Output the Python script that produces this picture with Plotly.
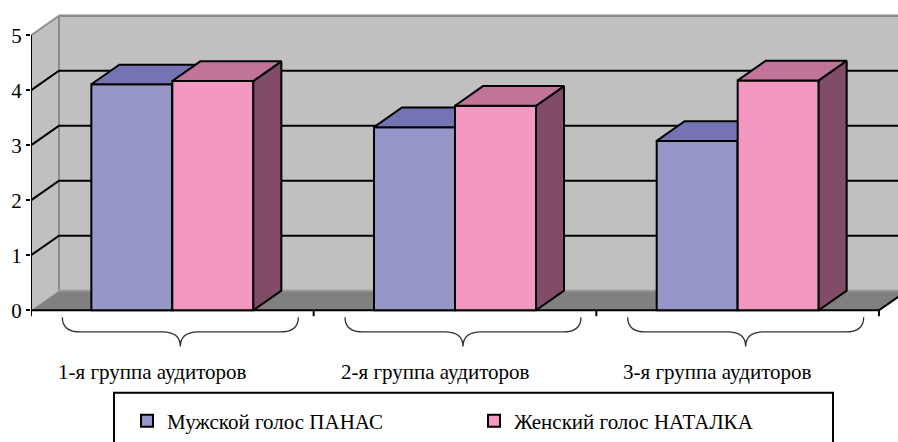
import plotly.graph_objects as go

# ---- data -------------------------------------------------------------
categories = ["1-я группа аудиторов", "2-я группа аудиторов", "3-я группа аудиторов"]
series_names = ["Мужской голос ПАНАС", "Женский голос НАТАЛКА"]
male_values = [4.11, 3.33, 3.08]
female_values = [4.17, 3.72, 4.18]
y_ticks = [0, 1, 2, 3, 4, 5]

# ---- styling / geometry ------------------------------------------------
FONT = "Liberation Serif"
W, H = 898, 442
ML = 31                       # left margin (value axis sits here)
PX_X = 282.67                 # pixels per category
PX_Y = 56.0                   # pixels per value unit
Y0_PX = 316                   # pixel row of value 0

X_RANGE = [-0.5, -0.5 + (W - ML) / PX_X]
Y_RANGE = [-(H - Y0_PX) / PX_Y, Y0_PX / PX_Y]

DX = 28 / PX_X                # depth offset (x)
DY = 20 / PX_Y                # depth offset (y)
BAR_W = 81 / PX_X             # bar width in category units
YMAX = 5
XR = X_RANGE[1] + 0.2         # back wall runs past the right edge

WALL = "#C0C0C0"
FLOOR = "#808080"
EDGE = "#8C8C8C"

colors = {
    "front": ["#9696C8", "#F399C1"],
    "top": ["#7474B4", "#C07498"],
    "side": ["#4B4B78", "#804C68"],
}


def px_x(dpx):
    return dpx / PX_X


def px_y(dpx):
    return dpx / PX_Y


fig = go.Figure()


def poly(xs, ys, fill, axis="", line_color=None, line_width=0):
    fig.add_trace(go.Scatter(
        x=xs + [xs[0]], y=ys + [ys[0]], mode="lines", fill="toself",
        fillcolor=fill,
        line=dict(color=line_color or fill, width=line_width),
        hoverinfo="skip", showlegend=False,
        xaxis="x" + axis, yaxis="y" + axis,
    ))


def seg(xs, ys, color, width):
    fig.add_trace(go.Scatter(
        x=xs, y=ys, mode="lines", line=dict(color=color, width=width),
        hoverinfo="skip", showlegend=False,
    ))


# ---- walls and floor (main subplot, drawn first) ----------------------
x_left = -0.5
x_right = -0.5 + len(categories)
poly([x_left + DX, XR, XR, x_left + DX], [DY, DY, YMAX + DY, YMAX + DY], WALL)
poly([x_left, x_left + DX, x_left + DX, x_left], [0, DY, YMAX + DY, YMAX], WALL)
poly([x_left, x_right, x_right + DX, x_left + DX], [0, 0, DY, DY], FLOOR)

# wall edges
seg([x_left + DX, XR], [YMAX + DY, YMAX + DY], EDGE, 2.5)
seg([x_left, x_left + DX], [YMAX, YMAX + DY], EDGE, 2)
seg([x_left + DX, x_left + DX], [DY, YMAX + DY], EDGE, 2)
seg([x_left + DX, XR], [DY, DY], "#999999", 2)
seg([x_left, x_left + DX], [0, DY], "#A8A8A8", 1)

# gridlines across side and back wall
for k in y_ticks[1:-1]:
    seg([x_left, x_left + DX, XR], [k, k + DY, k + DY], "black", 2)

# value axis line, floor front edge and category ticks
seg([x_left, x_left], [0, YMAX], "black", 2)
seg([x_left, x_right, x_right + DX], [0, 0, DY], "black", 2)
for i in range(len(categories) + 1):
    seg([x_left + i, x_left + i], [0, -px_y(6)], "black", 2)


# ---- 3-D columns: each series on its own overlaid subplot --------------
def add_series(values, idx, axis):
    offset = -BAR_W if idx == 0 else 0.0
    fig.add_trace(go.Bar(
        x=list(range(len(values))), y=values, base=0,
        width=BAR_W, offset=offset,
        marker=dict(color=colors["front"][idx], line=dict(color="black", width=2)),
        name=series_names[idx], xaxis="x" + axis, yaxis="y" + axis,
        hoverinfo="skip",
    ))
    for i, v in enumerate(values):
        xl = i + offset
        xr = xl + BAR_W
        poly([xr, xr + DX, xr + DX, xr], [0, DY, v + DY, v],
             colors["side"][idx], axis, "black", 2)
        poly([xl, xr, xr + DX, xl + DX], [v, v, v + DY, v + DY],
             colors["top"][idx], axis, "black", 2)


add_series(male_values, 0, "2")
add_series(female_values, 1, "3")

# ---- braces and category labels under the axis ----------------------
shapes = []
annotations = []
for i, name in enumerate(categories):
    c_px = ML + PX_X * (i + 0.5)
    x0 = -0.5 + (c_px - 110 - ML) / PX_X
    x1 = -0.5 + (c_px + 126 - ML) / PX_X
    xm = -0.5 + (c_px + 8 - ML) / PX_X
    yt = (Y0_PX - 323) / PX_Y
    ym = (Y0_PX - 338) / PX_Y
    yb = (Y0_PX - 353) / PX_Y
    r = px_x(18)
    path = (f"M {x0},{yt} Q {x0},{ym} {x0 + r},{ym} L {xm - r},{ym} "
            f"Q {xm},{ym} {xm},{yb} Q {xm},{ym} {xm + r},{ym} "
            f"L {x1 - r},{ym} Q {x1},{ym} {x1},{yt}")
    shapes.append(dict(type="path", path=path, xref="x", yref="y",
                       line=dict(color="#333333", width=1.3), layer="above"))
    annotations.append(dict(
        x=-0.5 + (c_px - 20 - ML) / PX_X, y=(Y0_PX - 379) / PX_Y,
        xref="x", yref="y", text=name, showarrow=False,
        xanchor="center", yanchor="middle",
        font=dict(family=FONT, size=21, color="black"),
    ))

# legend frame
PW = W - ML
shapes.append(dict(type="rect", xref="paper", yref="paper",
                   x0=(114 - ML) / PW, x1=(833 - ML) / PW,
                   y0=(H - 460) / H, y1=(H - 400) / H,
                   line=dict(color="black", width=2), fillcolor="rgba(0,0,0,0)"))

axis_common = dict(range=X_RANGE, visible=False, fixedrange=True)
yaxis_common = dict(range=Y_RANGE, visible=False, fixedrange=True)

fig.update_layout(
    width=W, height=H,
    margin=dict(l=ML, r=0, t=0, b=0),
    paper_bgcolor="white", plot_bgcolor="white",
    font=dict(family=FONT, color="black"),
    xaxis=dict(range=X_RANGE, visible=False, fixedrange=True),
    yaxis=dict(range=Y_RANGE, tickvals=y_ticks, ticktext=[str(t) for t in y_ticks],
               ticks="outside", ticklen=4, tickwidth=2, tickcolor="black",
               showgrid=False, zeroline=False, showline=False, fixedrange=True,
               tickfont=dict(family=FONT, size=21, color="black")),
    xaxis2=dict(overlaying="x", **axis_common),
    yaxis2=dict(overlaying="y", **yaxis_common),
    xaxis3=dict(overlaying="x", **axis_common),
    yaxis3=dict(overlaying="y", **yaxis_common),
    showlegend=True,
    legend=dict(orientation="h", x=(127 - ML) / PW, y=(H - 408) / H,
                xanchor="left", yanchor="top",
                entrywidth=302, entrywidthmode="pixels",
                font=dict(family=FONT, size=21, color="black"),
                bgcolor="rgba(0,0,0,0)", borderwidth=0),
    shapes=shapes,
    annotations=annotations,
)

fig.write_html("out.html")
